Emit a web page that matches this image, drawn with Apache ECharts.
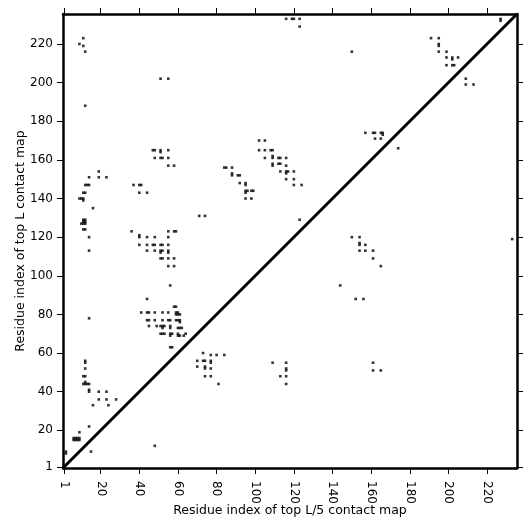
<!DOCTYPE html>
<html>
<head>
<meta charset="utf-8">
<title>Contact map</title>
<script src="https://cdn.jsdelivr.net/npm/echarts@6/dist/echarts.min.js"></script>
<style>
html, body { margin: 0; padding: 0; background: #fff; }
#charts { width: 531px; height: 531px; }
</style>
</head>
<body>
<div id="charts"></div>
<script>
var xTicks = [1, 20, 40, 60, 80, 100, 120, 140, 160, 180, 200, 220];
var yTicks = [1, 20, 40, 60, 80, 100, 120, 140, 160, 180, 200, 220];
var diagonal = [[0.5, 0.5], [235.5, 235.5]];

// upper-left part, top L/5 on x and top L on y
var contactsHigh = [
    [11,223],[9,220],[11,219],[12,216],[12,188],[51,202],[55,202],
    [47,165],[48,165],[51,165],[51,164],[55,165],[48,161],[51,161],[52,161],[55,161],[55,157],[58,157],
    [116,233],[119,233],[120,233],[123,233],[123,229],[150,216],[157,174],
    [102,170],[105,170],[102,165],[105,165],[108,165],[109,165],[105,161],[109,162],[109,161],
    [112,161],[113,161],[116,161],[109,158],[109,157],[112,158],[113,158],[116,157],
    [227,233],[227,232],[191,223],[195,223],[195,220],[195,219],[195,216],[199,216],[199,213],
    [202,213],[202,212],[205,213],[199,209],[202,209],[203,209],[209,202],[209,199],[213,199],
    [161,174],[162,174],[165,174],[166,174],[166,173],[162,171],[165,171],[174,166],
    [84,156],[85,156],[88,156],[88,153],[88,152],[91,152],[92,152],[92,148],[95,148],[95,147],
    [95,144],[96,144],[95,143],[98,144],[99,144],[95,140],[98,140],
    [113,154],[116,154],[117,154],[116,153],[120,154],[116,150],[120,150],[120,147],[124,147],[123,129]
];

var contactsMid = [
    [19,154],[19,151],[14,151],[23,151],[12,147],[13,147],[14,147],[37,147],[40,147],[41,147],
    [11,143],[12,143],[40,143],[44,143],[9,140],[10,140],[11,140],[11,139],[16,135],[71,131],[74,131],
    [11,129],[12,129],[11,128],[12,128],[10,127],[11,127],[12,127],[11,124],[12,124],[14,120],[36,123],
    [55,123],[58,123],[59,123],[40,121],[40,120],[44,120],[48,120],[55,120],
    [40,116],[44,116],[47,116],[48,116],[51,116],[52,116],[55,116],[14,113],[44,113],[48,113],
    [51,113],[51,112],[52,113],[55,113],[55,112],[51,109],[52,109],[55,109],[58,109],[55,105],[58,105],
    [56,95],[44,88],[58,84],[59,84],[41,81],[44,81],[45,81],[48,81],[52,81],[55,81],[59,81],[60,81],[59,80],[60,80],[61,80],
    [14,78],[44,77],[45,77],[48,77],[52,77],[55,77],[56,77],[59,77],[60,77],[61,77],[61,76],
    [45,74],[49,74],[51,74],[52,74],[53,74],[52,73],[56,74],[56,73],[60,73],[61,73],[62,73],
    [51,70],[52,70],[53,70],[56,70],[57,70],[56,69],[60,70],[60,69],[61,69],[63,69],[64,70],[56,63],[57,63]
];

var contactsLow = [
    [73,60],[77,59],[80,59],[84,59],[70,56],[73,56],[74,56],[77,56],[77,55],[70,53],[74,53],[74,52],[77,52],
    [74,48],[77,48],[81,44],[109,55],[116,55],[116,52],[116,51],[113,48],[116,48],[116,44],
    [12,56],[12,55],[12,52],[11,48],[12,48],[11,44],[12,44],[13,44],[14,44],[12,45],[14,41],[14,40],
    [19,40],[23,40],[19,36],[23,36],[28,36],[16,33],[24,33],[14,22],[9,19],
    [6,16],[7,16],[8,16],[9,16],[6,15],[7,15],[8,15],[9,15],[2,9],[2,8],[15,9],[48,12],
    [150,120],[154,120],[154,117],[154,116],[157,116],[154,113],[157,113],[161,113],[161,109],[165,105],
    [144,95],[152,88],[156,88],[233,119],[161,55],[161,51],[165,51]
];

var contacts = contactsHigh.concat(contactsMid, contactsLow);

function valueAxis(position, ticks, showLabel, rotate, name, gap, margin) {
    return {
        type: 'value',
        position: position,
        min: 0.5,
        max: 235.5,
        splitLine: { show: false },
        name: name,
        nameLocation: 'middle',
        nameGap: gap,
        nameMoveOverlap: false,
        nameTextStyle: { color: '#000', fontFamily: 'DejaVu Sans', fontSize: 12.5 },
        axisLine: { show: true, onZero: false, lineStyle: { color: '#000', width: 2.5 } },
        axisTick: {
            show: true,
            customValues: ticks,
            length: 6,
            inside: false,
            lineStyle: { color: '#000', width: 1 }
        },
        axisLabel: {
            show: showLabel,
            customValues: ticks,
            rotate: rotate,
            margin: margin,
            color: '#000',
            fontFamily: 'DejaVu Sans',
            fontSize: 12
        }
    };
}

var myChart = echarts.init(document.getElementById('charts'), null, { renderer: 'canvas' });
var option = {
    animation: false,
    backgroundColor: '#fff',
    grid: { left: 63, right: 14, top: 14, bottom: 63, containLabel: false },
    xAxis: [
        valueAxis('bottom', xTicks, true, -90, 'Residue index of top L/5 contact map', 36, 13),
        valueAxis('top', xTicks, false, 0, '', 0, 7)
    ],
    yAxis: [
        valueAxis('left', yTicks, true, 0, 'Residue index of top L contact map', 36, 10),
        valueAxis('right', yTicks, false, 0, '', 0, 7)
    ],
    series: [{
        name: 'diagonal',
        type: 'line',
        data: diagonal,
        showSymbol: false,
        silent: true,
        lineStyle: { color: '#000', width: 3 }
    }, {
        name: 'contacts',
        type: 'scatter',
        data: contacts,
        symbol: 'rect',
        symbolSize: 2.6,
        itemStyle: { color: '#000' }
    }]
};
myChart.setOption(option);
</script>
</body>
</html>
